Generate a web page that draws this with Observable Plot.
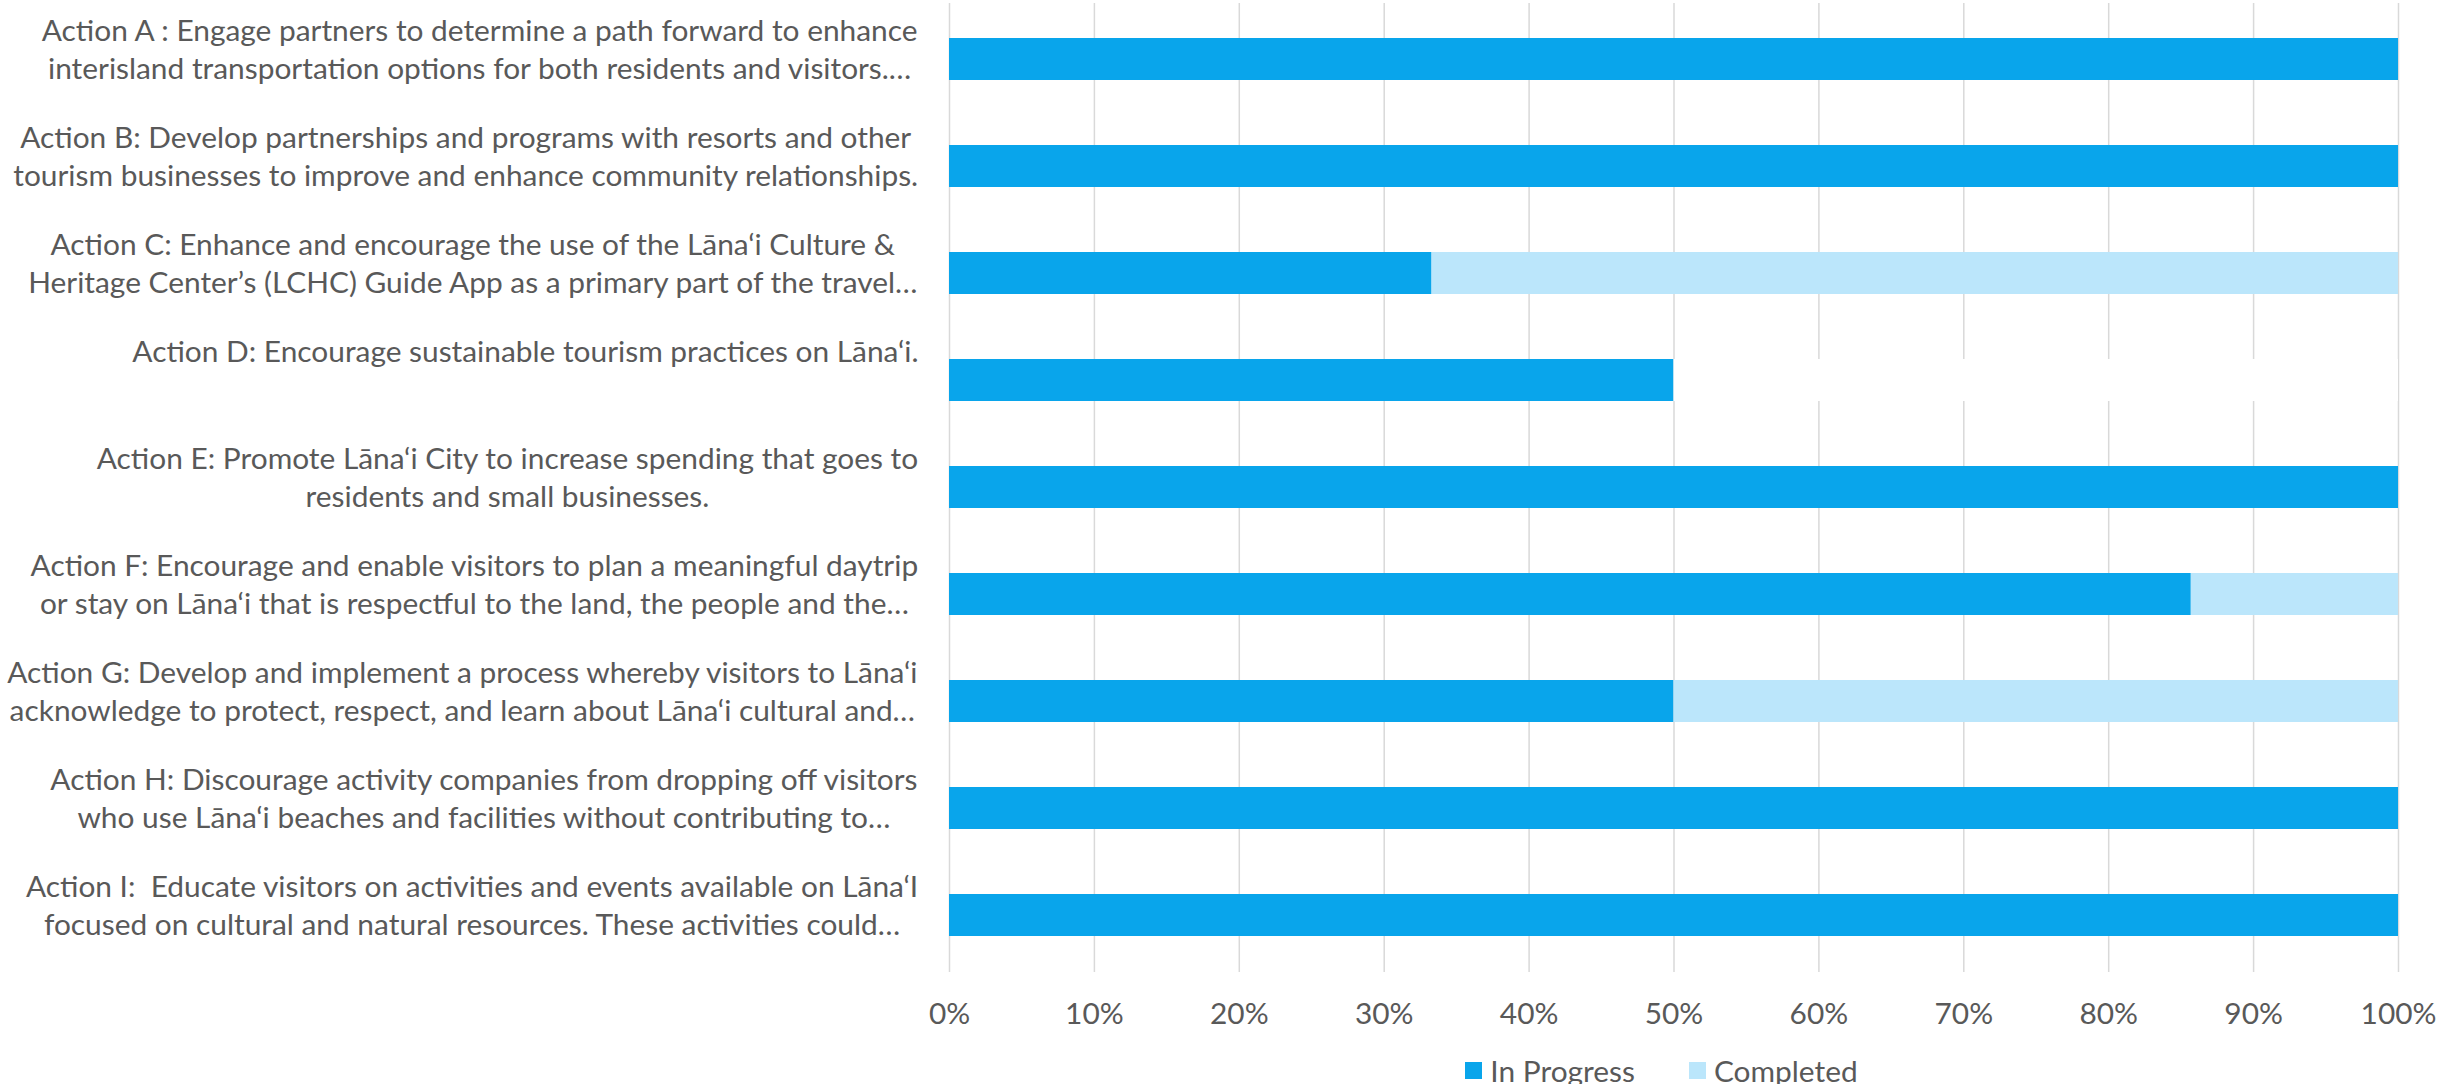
<!DOCTYPE html>
<html>
<head>
<meta charset="utf-8">
<script src="https://cdn.jsdelivr.net/npm/d3@7"></script>
<script src="https://cdn.jsdelivr.net/npm/@observablehq/plot@0.6"></script>
<style>
  html, body { margin: 0; padding: 0; background: #fff; }
  #chart svg { display: block; }
  #legend { display: flex; align-items: center; justify-content: center; height: 60px; margin-left: 937px; width: 1449px; color: #595959; }
  .item { display: flex; align-items: center; margin: 0 27px; }
  .sw { width: 17px; height: 17px; margin-right: 8px; }
</style>
</head>
<body>
<div id="chart"></div>
<div id="legend"></div>
<script>
const categories = ["A", "B", "C", "D", "E", "F", "G", "H", "I"];
const labels = [
  "Action A : Engage partners to determine a path forward to enhance\ninterisland transportation options for both residents and visitors.…",
  "Action B: Develop partnerships and programs with resorts and other\ntourism businesses to improve and enhance community relationships.",
  "Action C: Enhance and encourage the use of the Lāna‘i Culture &\nHeritage Center’s (LCHC) Guide App as a primary part of the travel…",
  "Action D: Encourage sustainable tourism practices on Lāna‘i.\n",
  "Action E: Promote Lāna‘i City to increase spending that goes to\nresidents and small businesses.",
  "Action F: Encourage and enable visitors to plan a meaningful daytrip\nor stay on Lāna‘i that is respectful to the land, the people and the…",
  "Action G: Develop and implement a process whereby visitors to Lāna‘i\nacknowledge to protect, respect, and learn about Lāna‘i cultural and…",
  "Action H: Discourage activity companies from dropping off visitors\nwho use Lāna‘i beaches and facilities without contributing to…",
  "Action I:  Educate visitors on activities and events available on Lāna‘I\nfocused on cultural and natural resources. These activities could…"
];
const inProgress = [1, 1, 0.333, 0.5, 1, 0.857, 0.5, 1, 1];
const completed  = [0, 0, 0.667, 0, 0, 0.143, 0.5, 0, 0];
const notStarted = [0, 0, 0, 0.5, 0, 0, 0, 0, 0];
const seriesNames = ["In Progress", "Completed", "Not Started"];
const seriesColors = ["#09A5EB", "#BBE6FB", "#FFFFFF"];
const legendSeries = ["In Progress", "Completed"];
const xTicks = [0, 0.1, 0.2, 0.3, 0.4, 0.5, 0.6, 0.7, 0.8, 0.9, 1];

const FONT = "Lato";
const TEXT = "#595959";
const ctx = document.createElement("canvas").getContext("2d");
function measure(t, size) { ctx.font = `${size}px ${FONT}`; return ctx.measureText(t).width; }
const fontSize = 30 * 906 / measure("tourism businesses to improve and enhance community relationships.", 30);

const rows = [];
categories.forEach((c, i) => {
  rows.push({cat: c, series: "In Progress", value: inProgress[i]});
  rows.push({cat: c, series: "Completed", value: completed[i]});
  rows.push({cat: c, series: "Not Started", value: notStarted[i]});
});

const labelMarks = categories.map((c, i) => {
  const lines = labels[i].split("\n");
  const maxW = Math.max(...lines.map(l => measure(l, fontSize)));
  return Plot.text([c], {
    y: d => d,
    text: () => labels[i],
    frameAnchor: "left",
    textAnchor: "middle",
    lineAnchor: "middle",
    lineHeight: 38 / fontSize,
    dx: -31 - maxW / 2,
    dy: -12,
    fontSize,
    fontFamily: FONT,
    fill: TEXT
  });
});

const chart = Plot.plot({
  width: 2448,
  height: 1040,
  marginLeft: 949,
  marginRight: 50,
  marginTop: 3,
  marginBottom: 68,
  style: {fontFamily: FONT, color: TEXT, background: "#fff"},
  x: {domain: [0, 1], axis: null},
  y: {domain: categories, axis: null, paddingInner: 0.605, paddingOuter: 0.3025},
  color: {domain: seriesNames, range: seriesColors},
  marks: [
    Plot.ruleX(xTicks, {stroke: "#d9d9d9", strokeWidth: 1.5}),
    Plot.barX(rows, Plot.stackX({x: "value", y: "cat", fill: "series", order: seriesNames})),
    Plot.axisX(xTicks, {
      tickSize: 0, tickPadding: 30, label: null,
      tickFormat: d => Math.round(d * 100) + "%",
      fontSize, fontFamily: FONT, fill: TEXT
    }),
    ...labelMarks
  ]
});
document.getElementById("chart").appendChild(chart);

const legend = document.getElementById("legend");
legendSeries.forEach(s => {
  const item = document.createElement("div");
  item.className = "item";
  item.style.fontFamily = FONT;
  item.style.fontSize = fontSize + "px";
  const sw = document.createElement("div");
  sw.className = "sw";
  sw.style.background = seriesColors[seriesNames.indexOf(s)];
  const t = document.createElement("span");
  t.textContent = s;
  item.appendChild(sw); item.appendChild(t);
  legend.appendChild(item);
});
</script>
</body>
</html>
